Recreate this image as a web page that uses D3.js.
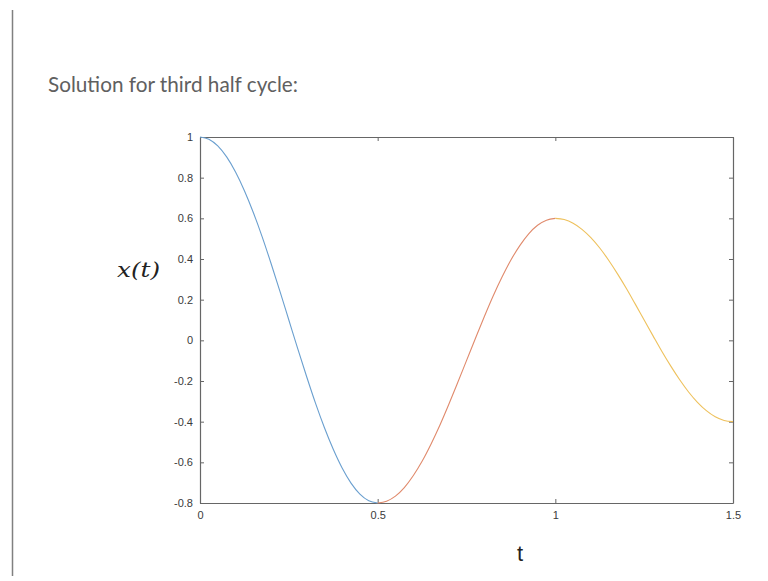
<!DOCTYPE html>
<html>
<head>
<meta charset="utf-8">
<script src="https://cdn.jsdelivr.net/npm/d3@7"></script>
<style>
  body { margin: 0; background: #fff; }
  svg { display: block; }
</style>
</head>
<body>
<div id="chart"></div>
<script>
// samples of each half cycle
var t1 = [0, 0.025, 0.05, 0.075, 0.1, 0.125, 0.15, 0.175, 0.2, 0.225, 0.25,
          0.275, 0.3, 0.325, 0.35, 0.375, 0.4, 0.425, 0.45, 0.475, 0.5]
var x1 = [1.0, 0.989, 0.956, 0.902, 0.828, 0.736, 0.629, 0.509, 0.378, 0.241, 0.1,
          -0.041, -0.178, -0.309, -0.429, -0.536, -0.628, -0.702, -0.756, -0.789, -0.8]
var t2 = [0.5, 0.525, 0.55, 0.575, 0.6, 0.625, 0.65, 0.675, 0.7, 0.725, 0.75,
          0.775, 0.8, 0.825, 0.85, 0.875, 0.9, 0.925, 0.95, 0.975, 1.0]
var x2 = [-0.8, -0.791, -0.766, -0.724, -0.666, -0.595, -0.511, -0.418, -0.316, -0.209, -0.1,
          0.009, 0.116, 0.218, 0.311, 0.395, 0.466, 0.524, 0.566, 0.591, 0.6]
var t3 = [1.0, 1.025, 1.05, 1.075, 1.1, 1.125, 1.15, 1.175, 1.2, 1.225, 1.25,
          1.275, 1.3, 1.325, 1.35, 1.375, 1.4, 1.425, 1.45, 1.475, 1.5]
var x3 = [0.6, 0.594, 0.576, 0.546, 0.505, 0.454, 0.394, 0.327, 0.255, 0.178, 0.1,
          0.022, -0.055, -0.127, -0.194, -0.254, -0.305, -0.346, -0.376, -0.394, -0.4]

var xTicks = [0, 0.5, 1, 1.5]
var yTicks = [-0.8, -0.6, -0.4, -0.2, 0, 0.2, 0.4, 0.6, 0.8, 1]
var seriesColors = ["#6a9fcf", "#e08a6c", "#eec15c"]

var width = 768, height = 581
var margin = {top: 137, right: 35, bottom: 78, left: 200}

var svg = d3.select("#chart").append("svg")
  .attr("width", width)
  .attr("height", height)

// slide border on the left
svg.append("line")
  .attr("x1", 12.5).attr("x2", 12.5)
  .attr("y1", 10).attr("y2", 576)
  .attr("stroke", "#808080").attr("stroke-width", 1.5)

svg.append("text")
  .attr("x", 48).attr("y", 92)
  .attr("font-family", "Lato, 'Open Sans', sans-serif")
  .attr("font-size", 22)
  .attr("fill", "#606060")
  .attr("textLength", 250)
  .attr("lengthAdjust", "spacingAndGlyphs")
  .text("Solution for third half cycle:")

var x = d3.scaleLinear().domain([0, 1.5]).range([margin.left, width - margin.right])
var y = d3.scaleLinear().domain([-0.8, 1]).range([height - margin.bottom, margin.top])

var axisColor = "#666"
var fmt = function(d) { return String(d) }

function styleAxis(g) {
  g.select(".domain").attr("stroke", axisColor).attr("stroke-width", 1.2)
  g.selectAll(".tick line").attr("stroke", axisColor)
  g.selectAll(".tick text")
    .attr("fill", "#3a3a3a")
    .attr("font-family", "'Liberation Sans', Arial, sans-serif")
    .attr("font-size", 11)
}

svg.append("g")
  .attr("transform", "translate(0," + y(-0.8) + ")")
  .call(d3.axisBottom(x).tickValues(xTicks).tickFormat(fmt).tickSizeInner(-4).tickSizeOuter(0).tickPadding(8))
  .call(styleAxis)

svg.append("g")
  .attr("transform", "translate(0," + y(1) + ")")
  .call(d3.axisTop(x).tickValues(xTicks).tickFormat("").tickSizeInner(-4).tickSizeOuter(0))
  .call(styleAxis)

svg.append("g")
  .attr("transform", "translate(" + x(0) + ",0)")
  .call(d3.axisLeft(y).tickValues(yTicks).tickFormat(fmt).tickSizeInner(-4).tickSizeOuter(0).tickPadding(7))
  .call(styleAxis)

svg.append("g")
  .attr("transform", "translate(" + x(1.5) + ",0)")
  .call(d3.axisRight(y).tickValues(yTicks).tickFormat("").tickSizeInner(-4).tickSizeOuter(0))
  .call(styleAxis)

var line = d3.line()
  .x(function(d) { return x(d[0]) })
  .y(function(d) { return y(d[1]) })
  .curve(d3.curveMonotoneX)

var segments = [[t1, x1], [t2, x2], [t3, x3]]
segments.forEach(function(s, i) {
  var pts = s[0].map(function(t, j) { return [t, s[1][j]] })
  svg.append("path")
    .datum(pts)
    .attr("fill", "none")
    .attr("stroke", seriesColors[i])
    .attr("stroke-width", 1.1)
    .attr("d", line)
})

svg.append("text")
  .attr("x", 117).attr("y", 277)
  .attr("font-family", "'DejaVu Serif', serif")
  .attr("font-style", "italic")
  .attr("font-size", 21)
  .attr("fill", "#222")
  .attr("textLength", 43)
  .attr("lengthAdjust", "spacingAndGlyphs")
  .text("x(t)")

svg.append("text")
  .attr("x", 517).attr("y", 561)
  .attr("font-family", "'Liberation Sans', Arial, sans-serif")
  .attr("font-size", 22)
  .attr("fill", "#222")
  .text("t")
</script>
</body>
</html>
